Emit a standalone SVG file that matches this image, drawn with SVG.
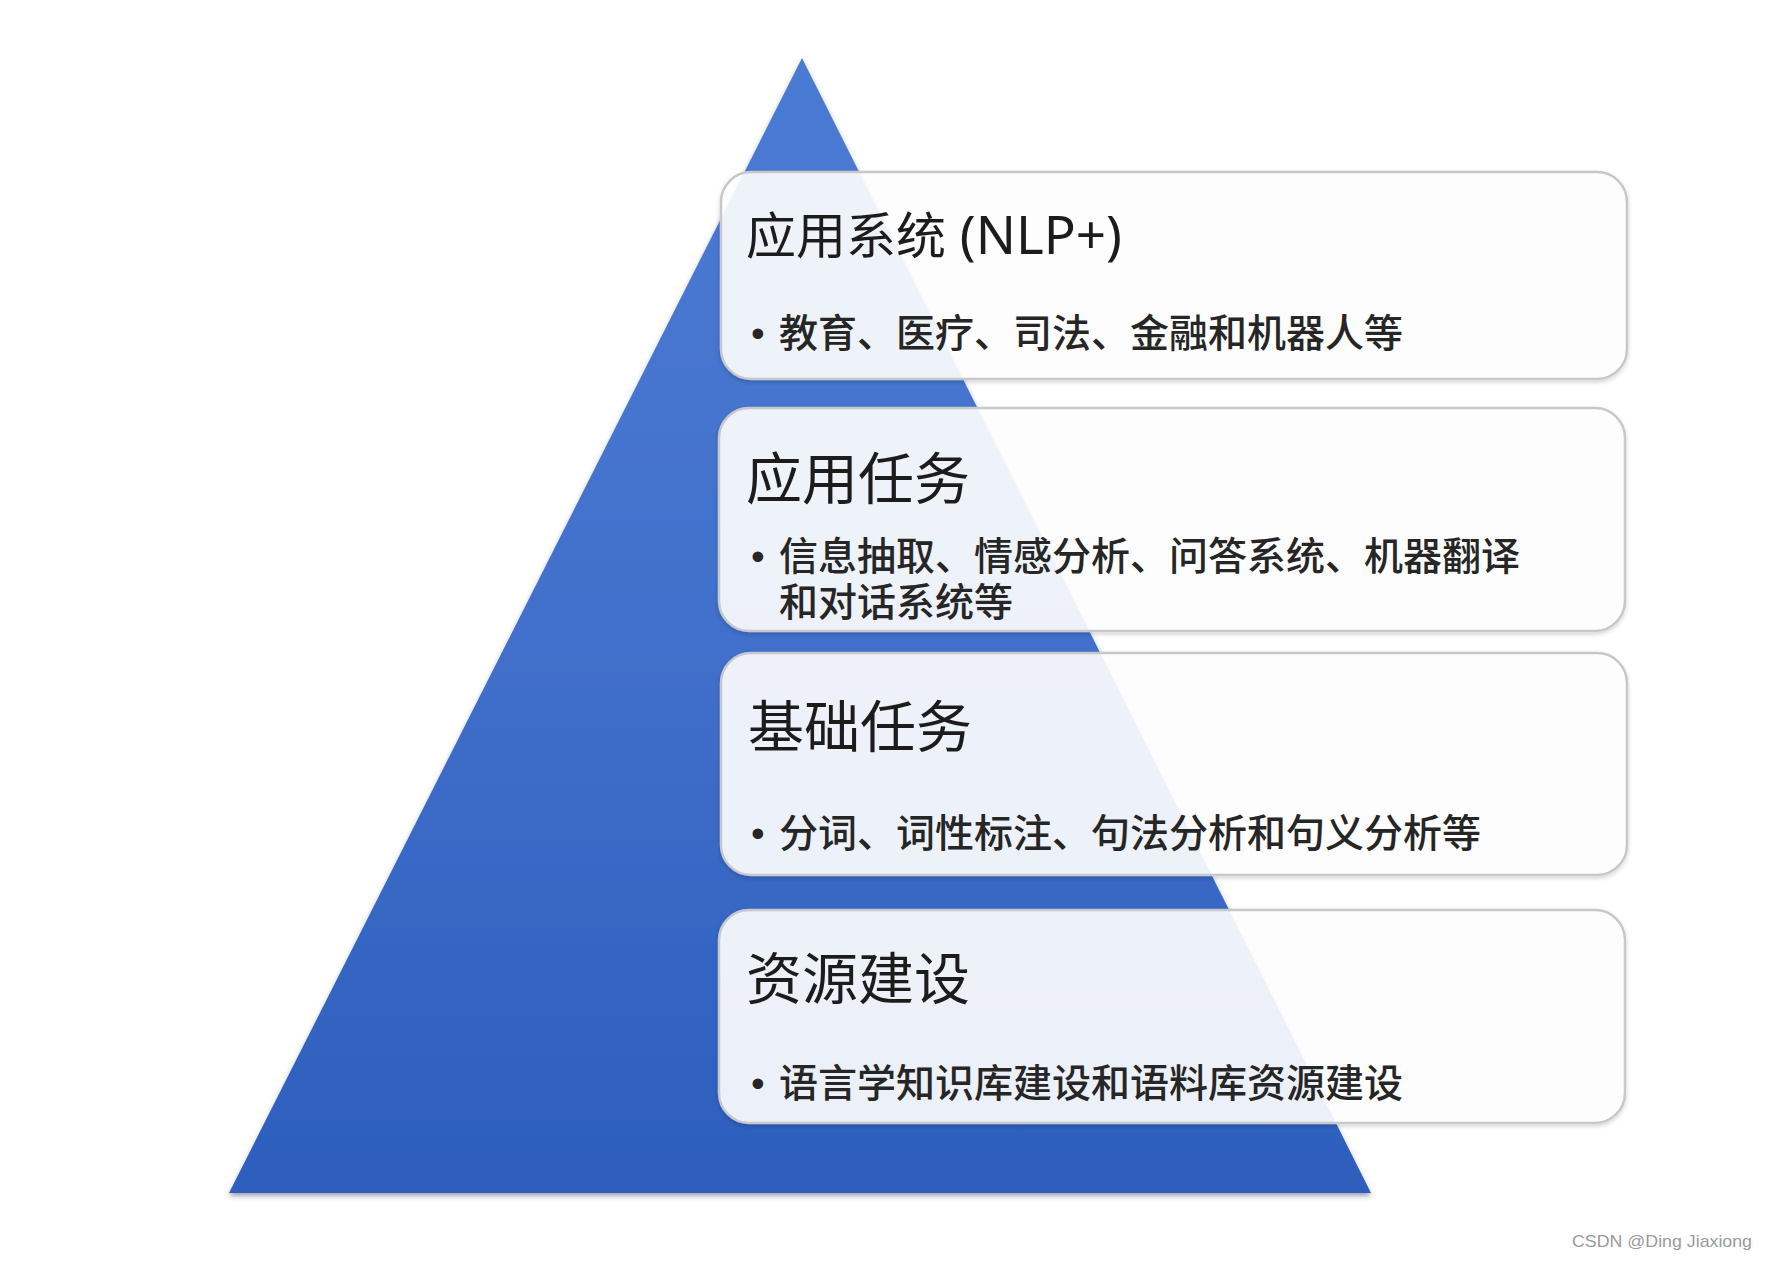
<svg xmlns="http://www.w3.org/2000/svg" width="1768" height="1261" viewBox="0 0 1768 1261">
  <defs>
    <linearGradient id="triGrad" x1="0" y1="0" x2="0" y2="1">
      <stop offset="0" stop-color="#4b7bd3"/>
      <stop offset="0.5" stop-color="#4170cb"/>
      <stop offset="1" stop-color="#2d5ebd"/>
    </linearGradient>
    <filter id="triShadow" x="-5%" y="-5%" width="110%" height="112%">
      <feDropShadow dx="0" dy="3" stdDeviation="2.5" flood-color="#2a3550" flood-opacity="0.45"/>
    </filter>
    <filter id="boxShadow" x="-3%" y="-5%" width="106%" height="115%">
      <feDropShadow dx="0" dy="2" stdDeviation="2" flood-color="#000" flood-opacity="0.18"/>
    </filter>
    <style>
      .box { fill: #ffffff; fill-opacity: 0.9; stroke: #c6c8cc; stroke-width: 2.5; }
      .title { font-family: "Noto Sans CJK SC", sans-serif; fill: #1c1c1c; }
      .latin { font-family: "Noto Sans", "Noto Sans CJK SC", sans-serif; font-size: 53px; }
      .t1 { font-size: 50px; }
      .t2 { font-size: 56px; }
      .item { font-family: "Noto Sans CJK SC", sans-serif; font-size: 39px; font-weight: 500; fill: #262626; }
      .dot { font-family: "Liberation Sans", sans-serif; }
      .wm { font-family: "Liberation Sans", sans-serif; font-size: 17px; fill: #9a9a9a; }
    </style>
  </defs>
  <rect x="0" y="0" width="1768" height="1261" fill="#ffffff"/>

  <g id="pyramid">
    <polygon points="802,58 1371,1193 229,1193" fill="url(#triGrad)" filter="url(#triShadow)"/>
  </g>

  <g id="connectors"></g>

  <g id="node-app-system">
    <rect class="box" x="721" y="172" width="906" height="207" rx="30" ry="30" filter="url(#boxShadow)"/>
    <text class="title t1" x="746" y="254">应用系统<tspan class="latin"> (NLP+)</tspan></text>
    <text class="item" y="347"><tspan class="dot" x="751">•</tspan><tspan x="779">教育、医疗、司法、金融和机器人等</tspan></text>
  </g>

  <g id="node-app-task">
    <rect class="box" x="719" y="408" width="906" height="223" rx="30" ry="30" filter="url(#boxShadow)"/>
    <text class="title t2" x="746" y="499">应用任务</text>
    <text class="item" y="570"><tspan class="dot" x="751">•</tspan><tspan x="779">信息抽取、情感分析、问答系统、机器翻译</tspan><tspan x="779" dy="46">和对话系统等</tspan></text>
  </g>

  <g id="node-basic-task">
    <rect class="box" x="721" y="653" width="906" height="222" rx="30" ry="30" filter="url(#boxShadow)"/>
    <text class="title t2" x="748" y="747">基础任务</text>
    <text class="item" y="847"><tspan class="dot" x="751">•</tspan><tspan x="779">分词、词性标注、句法分析和句义分析等</tspan></text>
  </g>

  <g id="node-resource">
    <rect class="box" x="719" y="910" width="906" height="213" rx="30" ry="30" filter="url(#boxShadow)"/>
    <text class="title t2" x="746" y="999">资源建设</text>
    <text class="item" y="1097"><tspan class="dot" x="751">•</tspan><tspan x="779">语言学知识库建设和语料库资源建设</tspan></text>
  </g>

  <text class="wm" x="1572" y="1247" textLength="180" lengthAdjust="spacingAndGlyphs">CSDN @Ding Jiaxiong</text>
</svg>
